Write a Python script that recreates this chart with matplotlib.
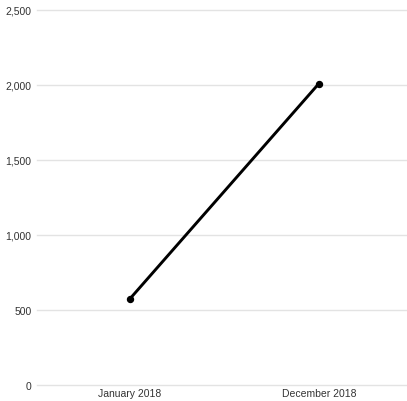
import matplotlib.pyplot as plt

months = ["January 2018", "December 2018"]
values = [575, 2010]
y_ticks = [0, 500, 1000, 1500, 2000, 2500]

plt.rcParams['font.family'] = ['Liberation Sans', 'DejaVu Sans']

fig = plt.figure(figsize=(4.07, 4.02), dpi=100)
ax = fig.add_axes([37 / 407, 16 / 402, 370 / 407, 375 / 402])

x = list(range(len(months)))
ax.plot(x, values, color="black", linewidth=2.1, marker="o", markersize=4.3, zorder=3)

ax.set_xlim(-0.492, 1.466)
ax.set_ylim(0, 2500)
ax.set_xticks(x)
ax.set_xticklabels(months)
ax.set_yticks(y_ticks)
ax.set_yticklabels([f"{v:,}" for v in y_ticks])

ax.grid(axis="y", color="#e3e3e3", linewidth=1)
for line in ax.get_ygridlines():
    line.set_clip_on(False)
for s in ax.spines.values():
    s.set_visible(False)
ax.tick_params(length=0, labelsize=7.5, colors="#333333")
ax.tick_params(axis="y", pad=4)
ax.tick_params(axis="x", pad=2)

fig.savefig("out.png", dpi=100)
